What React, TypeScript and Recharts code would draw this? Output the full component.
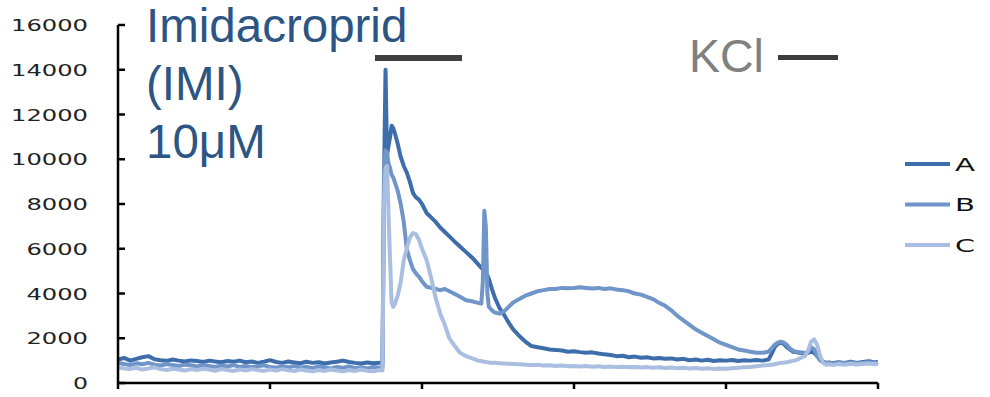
import React from "react";
import { LineChart, Line, XAxis, YAxis } from "recharts";

const times = [
  0, 4, 8, 12, 16, 20, 24, 28, 32, 36, 40, 44, 48, 52, 56, 60, 64, 68, 72, 76, 80, 84, 88, 92, 96, 100,
  104, 108, 112, 116, 120, 124, 128, 132, 136, 140, 144, 148, 152, 156, 160, 164, 168, 172, 174,
  175, 176, 177, 178, 179, 180, 181, 182, 184, 186, 188, 190, 192, 194, 196, 198, 200, 203, 206, 209,
  212, 215, 218, 221, 225, 229, 233, 237, 239, 240, 241, 242, 243, 244, 246, 248, 251, 254, 257, 260,
  264, 268, 272, 276, 280, 284, 288, 292, 296, 300, 304, 308, 312, 316, 320, 324, 328, 332, 336, 340,
  344, 348, 352, 356, 360, 364, 368, 372, 376, 380, 384, 388, 392, 396, 400, 404, 408, 412, 416, 420,
  424, 428, 430, 432, 434, 436, 438, 440, 442, 444, 446, 448, 450, 452, 454, 456, 458, 460, 462, 464,
  466, 468, 470, 474, 478, 482, 486, 490, 494, 498, 500,
];

const seriesA = [
  1050, 1120, 1000, 1080, 1150, 1200, 1060, 1020, 990, 1050, 1000, 960, 1010, 980, 940, 1000, 960, 930, 980, 950, 1000, 930, 960, 900, 950, 1020,
  940, 900, 960, 920, 880, 950, 900, 930, 870, 920, 950, 1000, 940, 900, 870, 920, 880, 900, 920,
  9000, 14000, 10200, 10600, 11000, 11500, 11400, 11200, 10700, 10100, 9700, 9400, 9000, 8500, 8300, 8200, 8000, 7600, 7400, 7200,
  6950, 6750, 6550, 6350, 6100, 5850, 5600, 5300, 5150, 5100, 5000, 4900, 4800, 4650, 4200, 3800, 3350, 3050, 2700, 2400,
  2100, 1850, 1650, 1600, 1550, 1500, 1480, 1450, 1400, 1420, 1380, 1350, 1370, 1320, 1280, 1250, 1200, 1220, 1150, 1180,
  1130, 1150, 1100, 1120, 1080, 1100, 1050, 1080, 1020, 1050, 1000, 1040, 980, 1020, 1000, 1030, 980, 1020, 1000, 1030,
  1000, 1050, 1300, 1600, 1750, 1800, 1750, 1600, 1500, 1400, 1380, 1350, 1340, 1300, 1350, 1400, 1350, 1200, 1050, 950,
  900, 920, 880, 930, 900, 950, 900, 940, 970, 920, 950,
];

const seriesB = [
  900, 850, 800, 880, 840, 900, 820, 780, 850, 800, 760, 820, 790, 740, 800, 760, 720, 780, 740, 800, 720, 760, 700, 750, 790, 720,
  680, 740, 700, 760, 690, 720, 660, 740, 700, 650, 720, 680, 740, 660, 700, 650, 720, 680, 700,
  9500, 10400, 10300, 9800, 9600, 9300, 9200, 9000, 8600, 8000, 7200, 6000, 5500, 5100, 4900, 4750, 4550, 4300, 4250, 4200,
  4150, 4200, 4100, 4000, 3850, 3700, 3650, 3580, 3550, 4500, 7700, 7000, 4000, 3400, 3250, 3150, 3100, 3200, 3400, 3600,
  3750, 3900, 4000, 4100, 4150, 4200, 4200, 4250, 4230, 4250, 4280, 4250, 4220, 4250, 4200, 4230, 4180, 4150, 4100, 4000,
  3950, 3850, 3750, 3580, 3450, 3250, 3000, 2800, 2600, 2400, 2250, 2100, 1950, 1800, 1700, 1600, 1500, 1450, 1400, 1350,
  1350, 1400, 1550, 1700, 1800, 1850, 1800, 1700, 1550, 1450, 1400, 1380, 1360, 1340, 1400, 1600, 1500, 1200, 1000, 920,
  880, 900, 860, 900, 880, 920, 870, 910, 930, 890, 910,
];

const seriesC = [
  700, 650, 620, 680, 600, 650, 700, 620, 580, 640, 600, 560, 620, 580, 640, 600, 550, 620, 580, 540, 600, 560, 620, 580, 540, 600,
  560, 620, 570, 530, 600, 560, 520, 580, 540, 600, 560, 520, 580, 540, 600, 550, 520, 580, 560,
  8000, 9600, 9700, 7500, 5500, 3600, 3400, 3500, 3900, 4500, 5500, 6000, 6500, 6700, 6650, 6400, 6000, 5500, 4700, 3800,
  3100, 2600, 2000, 1700, 1350, 1200, 1100, 1000, 980, 960, 950, 940, 930, 920, 900, 900, 880, 870, 860, 850,
  840, 820, 800, 810, 780, 790, 760, 780, 750, 760, 740, 760, 730, 750, 720, 740, 710, 730, 700, 720,
  690, 710, 680, 700, 670, 690, 660, 680, 650, 670, 640, 660, 630, 650, 640, 660, 680, 700, 720, 750,
  780, 800, 820, 840, 870, 890, 910, 930, 960, 990, 1020, 1080, 1150, 1200, 1450, 1850, 1950, 1700, 1200, 900,
  820, 840, 800, 850, 820, 860, 830, 850, 870, 840, 860,
];

const yTicks = [0, 2000, 4000, 6000, 8000, 10000, 12000, 14000, 16000];
const xTicks = [0, 100, 200, 300, 400, 500];
const seriesNames = ["A", "B", "C"];
const colors = ["#3d6dab", "#7095c9", "#a9bee0"];

const data = times.map((t, i) => ({ t, A: seriesA[i], B: seriesB[i], C: seriesC[i] }));

const YTick = (props: any) => {
  const { x, y, payload } = props;
  const label = String(payload.value);
  const w = label.length === 1 ? 15 : label.length * 15.4;
  return (
    <g>
      <line x1={x + 30} x2={x + 37} y1={y} y2={y} stroke="#000" strokeWidth={2.5} />
      <text
        x={x}
        y={y}
        dy={6}
        textAnchor="end"
        fontFamily="DejaVu Sans"
        fontSize={16.5}
        fill="#222"
        textLength={w}
        lengthAdjust="spacingAndGlyphs"
      >
        {label}
      </text>
    </g>
  );
};

const XTick = () => <g />;

export default function App() {
  return (
    <div style={{ position: "absolute", left: 0, top: 0, width: 990, height: 397, background: "#fff" }}>
      <LineChart width={990} height={397} data={data} margin={{ top: 25, right: 112, bottom: 4, left: 18 }}>
        <XAxis
          dataKey="t"
          type="number"
          domain={[0, 500]}
          ticks={xTicks}
          tick={<XTick />}
          tickSize={6}
          height={10}
          stroke="#000"
          strokeWidth={2.5}
          tickLine={{ stroke: "#000", strokeWidth: 2.5 }}
        />
        <YAxis
          type="number"
          domain={[0, 16000]}
          ticks={yTicks}
          width={100}
          tickSize={0}
          tickMargin={30}
          tick={<YTick />}
          stroke="#000"
          strokeWidth={2.5}
          interval={0}
        />
        {seriesNames.map((n, i) => (
          <Line
            key={n}
            dataKey={n}
            type="linear"
            dot={false}
            stroke={colors[i]}
            strokeWidth={4}
            strokeLinejoin="round"
            isAnimationActive={false}
          />
        ))}
      </LineChart>
      <svg
        width={990}
        height={397}
        style={{ position: "absolute", left: 0, top: 0, pointerEvents: "none" }}
      >
        <g fontFamily="Liberation Sans, Arial" fontSize={47.5} fill="#2c5583">
          <text x={146} y={42}>Imidacroprid</text>
          <text x={146} y={100}>(IMI)</text>
          <text x={146} y={158}>10μM</text>
        </g>
        <rect x={375} y={55} width={87} height={6} fill="#404040" />
        <text x={689} y={72} fontFamily="Liberation Sans, Arial" fontSize={46.5} fill="#808080">KCl</text>
        <rect x={778} y={55} width={60} height={5} fill="#3c3c3c" />
        {seriesNames.map((n, i) => (
          <g key={n}>
            <line x1={905} x2={950} y1={164 + i * 40.5} y2={164 + i * 40.5} stroke={colors[i]} strokeWidth={4} />
            <text
              x={955}
              y={164 + i * 40.5}
              dy={6.5}
              fontFamily="DejaVu Sans"
              fontSize={18}
              fill="#111"
              textLength={20}
              lengthAdjust="spacingAndGlyphs"
            >
              {n}
            </text>
          </g>
        ))}
      </svg>
    </div>
  );
}
